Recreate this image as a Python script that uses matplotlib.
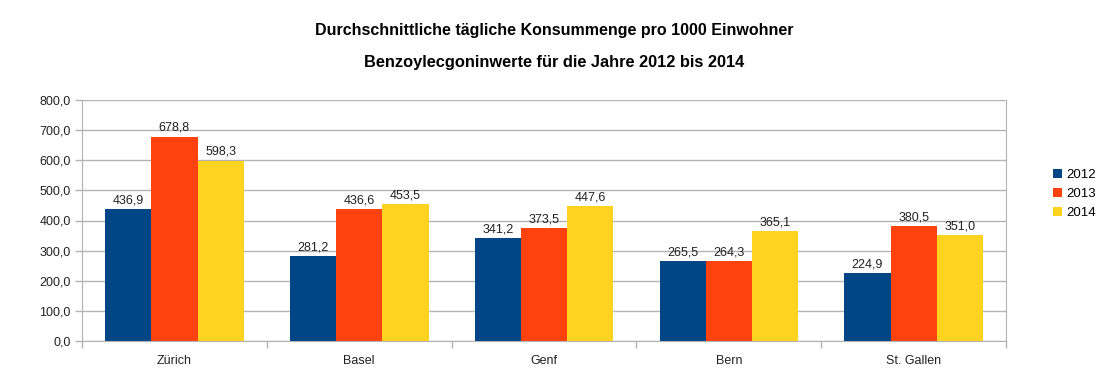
import matplotlib
matplotlib.use("Agg")
import matplotlib.pyplot as plt
import numpy as np

plt.rcParams['font.family'] = ['Liberation Sans', 'DejaVu Sans']

categories = ["Zürich", "Basel", "Genf", "Bern", "St. Gallen"]
years = ["2012", "2013", "2014"]
v2012 = [436.9, 281.2, 341.2, 265.5, 224.9]
v2013 = [678.8, 436.6, 373.5, 264.3, 380.5]
v2014 = [598.3, 453.5, 447.6, 365.1, 351.0]
colors = ["#004586", "#ff420e", "#ffd320"]

fig = plt.figure(figsize=(11.08, 3.9), dpi=100)
ax = fig.add_axes([82/1108, 1-341/390, (1006-82)/1108, (341-100)/390])

x = np.arange(len(categories)) + 0.5
w = 0.25
for i, (vals, yr) in enumerate(zip([v2012, v2013, v2014], years)):
    bars = ax.bar(x + (i-1)*w, vals, width=w, color=colors[i], label=yr, zorder=2)
    for b, v in zip(bars, vals):
        ax.text(b.get_x()+b.get_width()/2, v + 10, f"{v:.1f}".replace(".", ","),
                ha='center', va='bottom', fontsize=9, color='#222222')

ax.set_xlim(0, 5)
ax.set_ylim(0, 800)
ax.set_yticks(np.arange(0, 801, 100))
ax.set_yticklabels([f"{t:.1f}".replace(".", ",") for t in np.arange(0, 801, 100)], fontsize=9, color='#222222')
ax.yaxis.grid(True, color='#b3b3b3', linewidth=1, zorder=0)
ax.set_axisbelow(True)

ax.set_xticks(x)
ax.set_xticklabels(categories, fontsize=9, color='#222222')
ax.tick_params(axis='x', length=0, pad=10)
ax.set_xticks(np.arange(0, 6), minor=True)
ax.tick_params(axis='x', which='minor', length=5, color='#b3b3b3', width=1)
ax.tick_params(axis='y', length=5, color='#b3b3b3', width=1, pad=3)

for s in ['left', 'right', 'bottom']:
    ax.spines[s].set_color('#b3b3b3')
ax.spines['top'].set_visible(False)

fig.text(0.5, 1-30/390, "Durchschnittliche tägliche Konsummenge pro 1000 Einwohner",
         ha='center', va='center', fontsize=11.5, fontweight='bold')
fig.text(0.5, 1-62/390, "Benzoylecgoninwerte für die Jahre 2012 bis 2014",
         ha='center', va='center', fontsize=11.8, fontweight='bold')

leg = fig.legend(loc='center left', bbox_to_anchor=(1046/1108, 1-194/390), frameon=False,
                 fontsize=9.5, handlelength=0.7, handleheight=0.7, handletextpad=0.35,
                 labelspacing=0.5, borderpad=0)

fig.savefig("out.png", dpi=100)
